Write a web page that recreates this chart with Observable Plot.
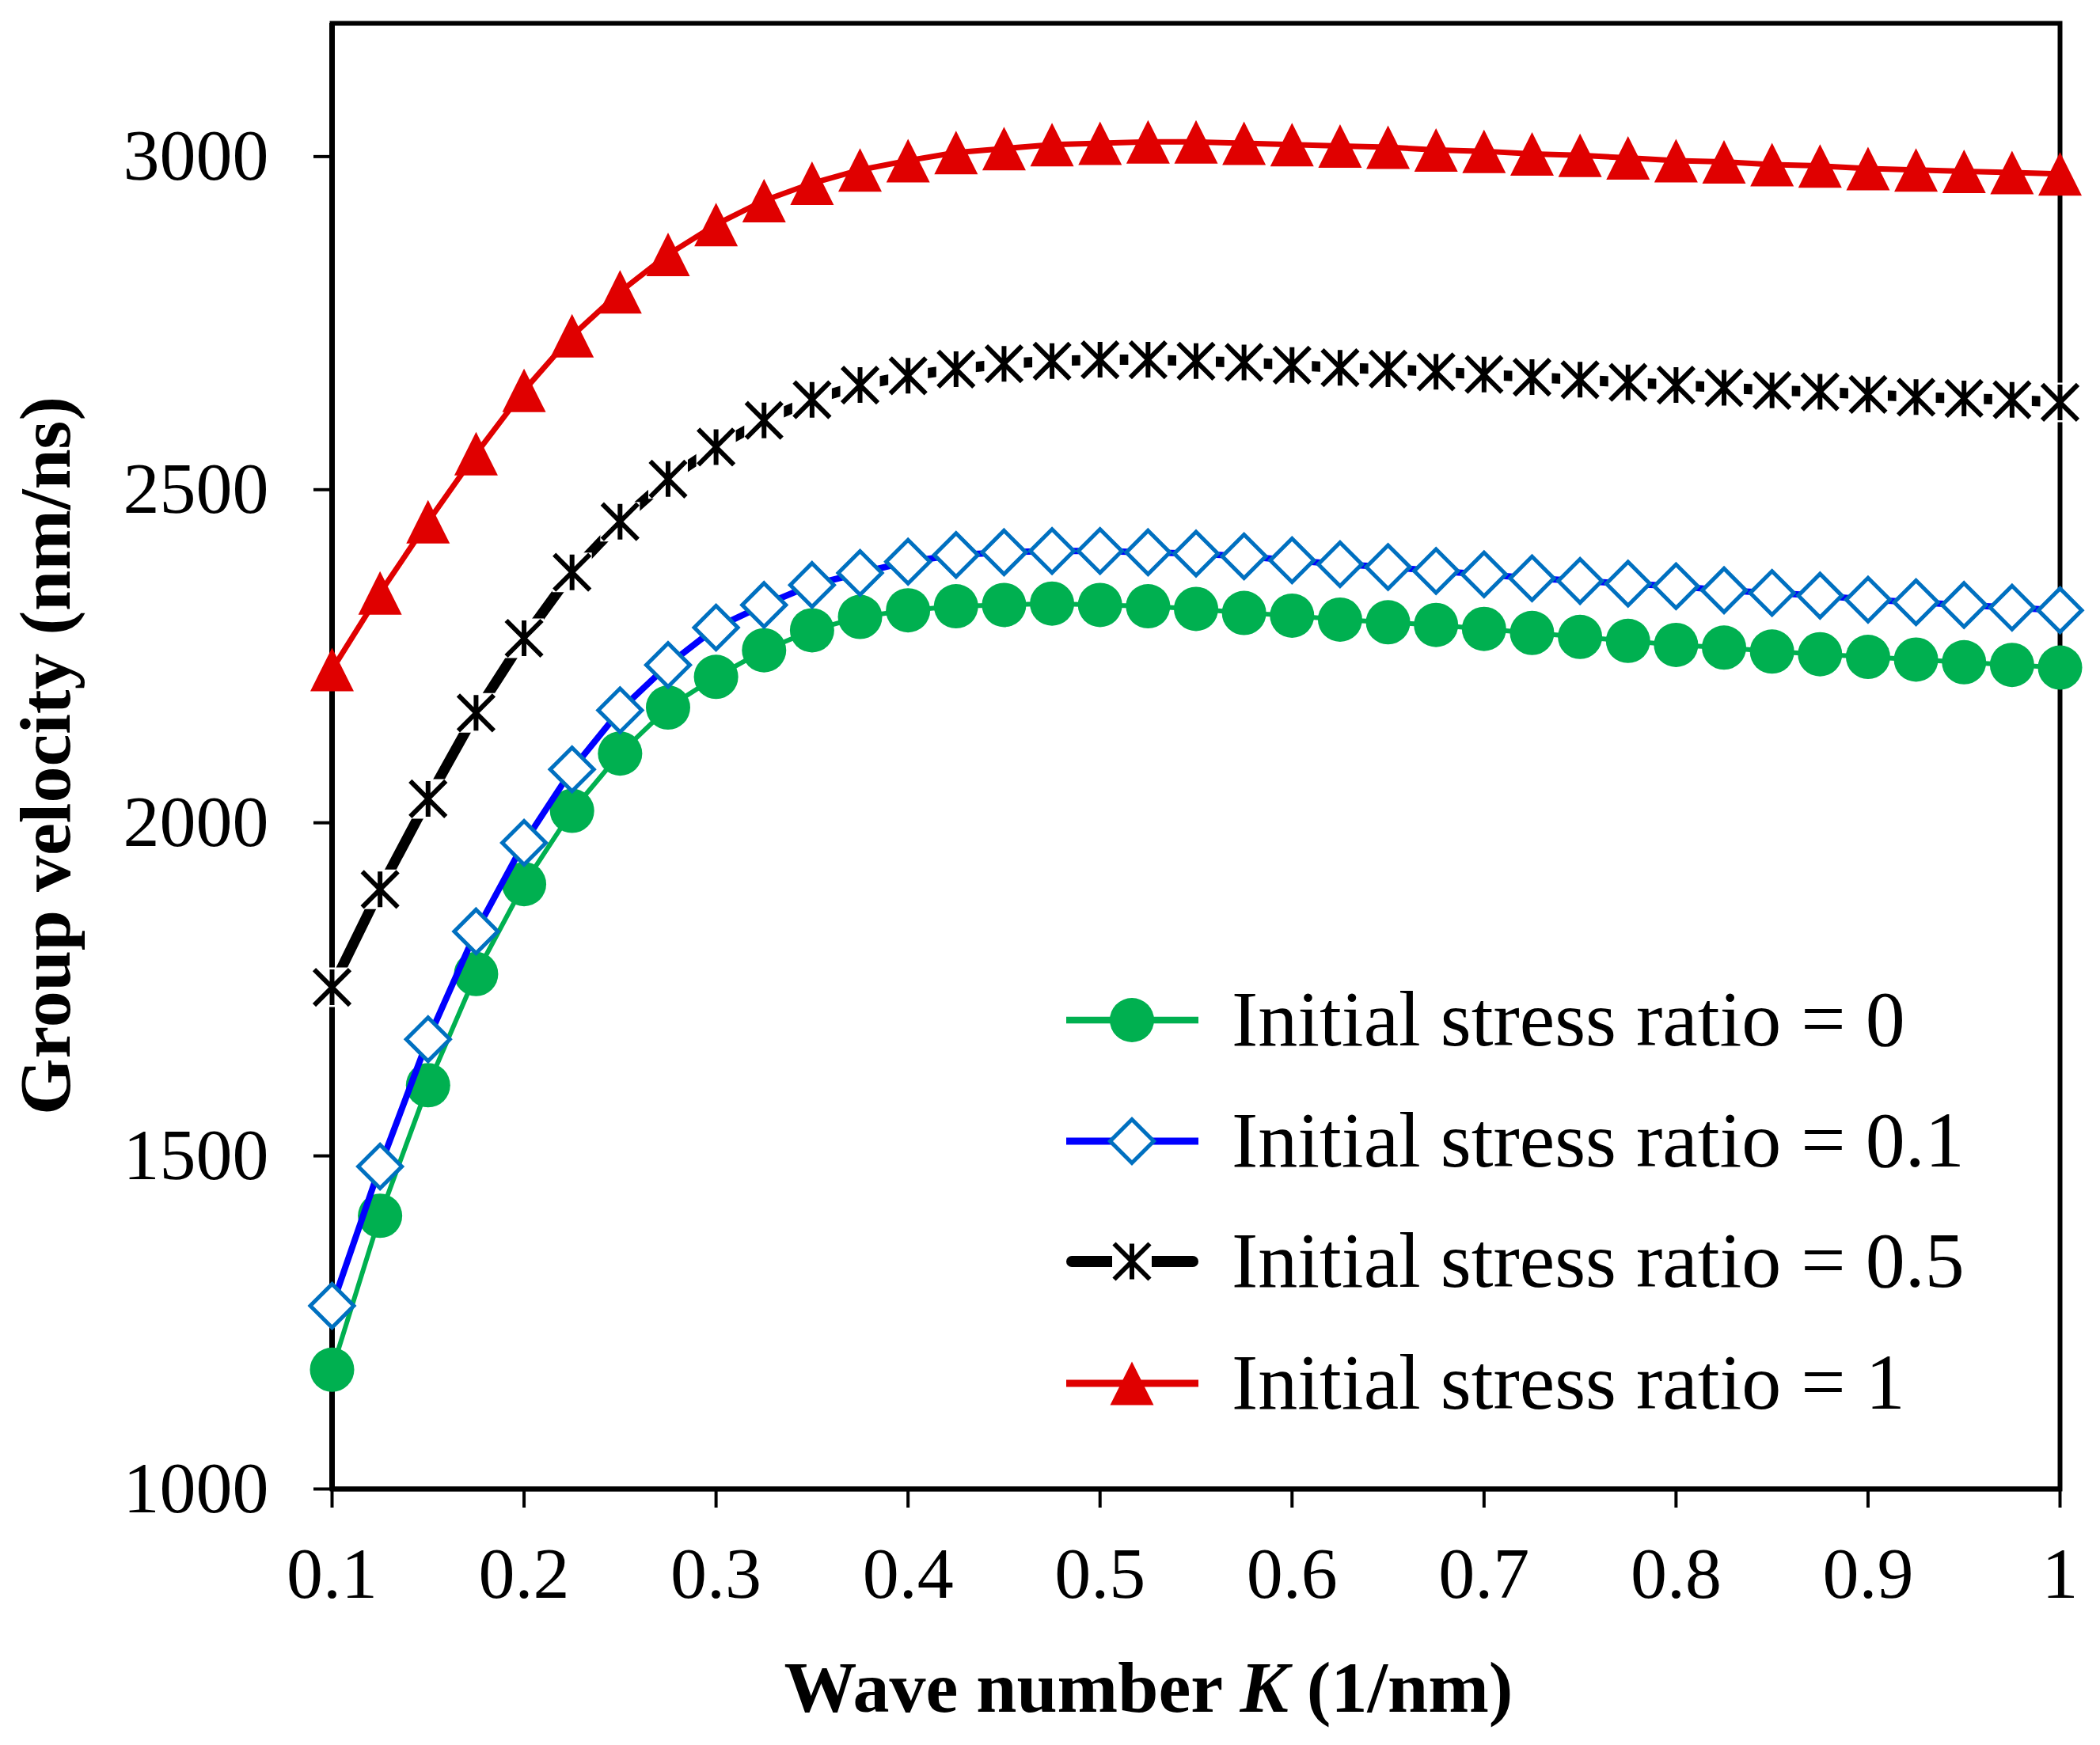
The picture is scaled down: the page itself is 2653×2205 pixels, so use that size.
<!DOCTYPE html>
<html>
<head>
<meta charset="utf-8">
<script src="https://cdn.jsdelivr.net/npm/d3@7"></script>
<script src="https://cdn.jsdelivr.net/npm/@observablehq/plot@0.6"></script>
<style>
  html, body { margin: 0; padding: 0; background: #fff; }
  #chart svg { display: block; }
</style>
</head>
<body>
<div id="chart"></div>
<script>
// ---- data ----
const waveNumber = [0.1, 0.125, 0.15, 0.175, 0.2, 0.225, 0.25, 0.275, 0.3, 0.325, 0.35, 0.375, 0.4, 0.425, 0.45, 0.475, 0.5, 0.525, 0.55, 0.575, 0.6, 0.625, 0.65, 0.675, 0.7, 0.725, 0.75, 0.775, 0.8, 0.825, 0.85, 0.875, 0.9, 0.925, 0.95, 0.975, 1.0];
const ratio0  = [1179,1410,1606,1773,1908,2018,2104,2173,2219,2259,2289,2309,2319,2325,2327,2329,2327,2325,2321,2315,2311,2305,2301,2297,2291,2285,2279,2273,2267,2263,2257,2253,2249,2245,2241,2237,2233];
const ratio01 = [1275,1484,1675,1837,1970,2080,2169,2237,2293,2327,2357,2375,2392,2402,2406,2408,2408,2406,2404,2400,2394,2388,2384,2378,2373,2367,2363,2359,2355,2349,2345,2341,2335,2331,2327,2323,2319];
const ratio05 = [1753,1900,2036,2165,2277,2376,2452,2516,2564,2604,2635,2657,2671,2681,2689,2693,2695,2695,2693,2691,2687,2683,2681,2677,2673,2669,2665,2661,2657,2653,2649,2647,2643,2639,2637,2635,2631];
const ratio1  = [2230,2345,2452,2554,2649,2731,2797,2853,2898,2934,2960,2980,2994,3006,3012,3018,3020,3022,3022,3020,3018,3016,3014,3010,3008,3004,3002,2998,2994,2992,2988,2986,2982,2980,2978,2976,2974];
const seriesNames = ["Initial stress ratio = 0", "Initial stress ratio = 0.1", "Initial stress ratio = 0.5", "Initial stress ratio = 1"];
const xTicks = [0.1, 0.2, 0.3, 0.4, 0.5, 0.6, 0.7, 0.8, 0.9, 1];
const yTicks = [1000, 1500, 2000, 2500, 3000];

const toRows = (vals) => waveNumber.map((k, i) => ({k, v: vals[i]}));
const d0 = toRows(ratio0), d01 = toRows(ratio01), d05 = toRows(ratio05), d1 = toRows(ratio1);

// ---- custom marker shapes (size = pi r^2) ----
const R = (s) => Math.sqrt(s / Math.PI);
const triangleSym = {draw(c, s) { const r = R(s); c.moveTo(0, -r); c.lineTo(r, r); c.lineTo(-r, r); c.closePath(); }};
const diamondSym  = {draw(c, s) { const r = R(s); c.moveTo(0, -r); c.lineTo(r, 0); c.lineTo(0, r); c.lineTo(-r, 0); c.closePath(); }};
const starSym     = {draw(c, s) { const r = R(s); c.moveTo(0, -r); c.lineTo(0, r); c.moveTo(-r, -r); c.lineTo(r, r); c.moveTo(-r, r); c.lineTo(r, -r); }};
const squareSym   = {draw(c, s) { const r = R(s); c.rect(-r, -r, 2 * r, 2 * r); }};

const GREEN = "#00B050", BLUE_LINE = "#0000FF", BLUE_MK = "#0070C0", RED = "#E00000", BLACK = "#000";
const FONT = "'Liberation Serif', 'Times New Roman', serif";

const W = 2653, H = 2205;
const plot = Plot.plot({
  width: W, height: H,
  marginLeft: 419, marginRight: 51, marginTop: 29, marginBottom: 324,
  x: {domain: [0.1, 1]},
  y: {domain: [1000, 3200]},
  style: {fontFamily: FONT, fontSize: "92px", background: "#fff", color: "#000"},
  marks: [
    Plot.frame({stroke: BLACK, strokeWidth: 6}),
    Plot.ruleX([0.1], {stroke: BLACK, strokeWidth: 7}),
    Plot.ruleY([1000], {stroke: BLACK, strokeWidth: 6}),
    Plot.axisX({ticks: xTicks, tickSize: 24, tickPadding: 48, strokeWidth: 4, label: null,
                tickFormat: (d) => String(+d.toFixed(1)), fontSize: 92}),
    Plot.axisY({ticks: yTicks, tickSize: 23, tickPadding: 57, strokeWidth: 4, label: null,
                tickFormat: (d) => String(d), fontSize: 92}),
    // ratio 0
    Plot.line(d0, {x: "k", y: "v", stroke: GREEN, strokeWidth: 6}),
    Plot.dot(d0, {x: "k", y: "v", r: 28, fill: GREEN, stroke: "none"}),
    // ratio 0.1
    Plot.line(d01, {x: "k", y: "v", stroke: BLUE_LINE, strokeWidth: 8}),
    Plot.dot(d01, {x: "k", y: "v", r: 27.5, symbol: diamondSym, fill: "#fff", stroke: BLUE_MK, strokeWidth: 5}),
    // ratio 0.5
    Plot.line(d05, {x: "k", y: "v", stroke: BLACK, strokeWidth: 13}),
    Plot.dot(d05, {x: "k", y: "v", r: 25, symbol: squareSym, fill: "#fff", stroke: "none"}),
    Plot.dot(d05, {x: "k", y: "v", r: 22.5, symbol: starSym, fill: "none", stroke: BLACK, strokeWidth: 6}),
    // ratio 1
    Plot.line(d1, {x: "k", y: "v", stroke: RED, strokeWidth: 7}),
    Plot.dot(d1, {x: "k", y: "v", r: 27.5, symbol: triangleSym, fill: RED, stroke: "none"})
  ]
});
document.getElementById("chart").appendChild(plot);

// ---- axis titles ----
const svg = d3.select(plot);
const xt = svg.append("text")
  .attr("x", 1451).attr("y", 2163)
  .attr("text-anchor", "middle")
  .attr("font-family", FONT).attr("font-size", 92).attr("font-weight", "bold").attr("fill", "#000");
xt.append("tspan").text("Wave number ");
xt.append("tspan").attr("font-style", "italic").text("K");
xt.append("tspan").text(" (1/nm)");

svg.append("text")
  .attr("transform", "translate(88,955) rotate(-90)")
  .attr("text-anchor", "middle")
  .attr("font-family", FONT).attr("font-size", 92).attr("font-weight", "bold").attr("fill", "#000")
  .text("Group velocity (nm/ns)");

// ---- legend ----
const legendRows = [
  {name: seriesNames[0], line: GREEN, lw: 8.5, kind: "circle"},
  {name: seriesNames[1], line: BLUE_LINE, lw: 9, kind: "diamond"},
  {name: seriesNames[2], line: BLACK, lw: 14, kind: "star"},
  {name: seriesNames[3], line: RED, lw: 9, kind: "triangle"}
];
const rowY = [1289, 1442, 1594, 1748];
const lg = svg.append("g");
legendRows.forEach((row, i) => {
  const y = rowY[i];
  const g = lg.append("g");
  g.append("line").attr("x1", row.kind === "star" ? 1354 : 1347).attr("x2", row.kind === "star" ? 1507 : 1514)
    .attr("y1", y).attr("y2", y)
    .attr("stroke", row.line).attr("stroke-width", row.lw)
    .attr("stroke-linecap", row.kind === "star" ? "round" : "butt");
  const sym = (type, r) => d3.symbol().type(type).size(Math.PI * r * r)();
  const t = `translate(1430,${y})`;
  if (row.kind === "circle") {
    g.append("path").attr("transform", t).attr("d", sym(d3.symbolCircle, 28)).attr("fill", GREEN);
  } else if (row.kind === "diamond") {
    g.append("path").attr("transform", t).attr("d", sym(diamondSym, 27.5)).attr("fill", "#fff").attr("stroke", BLUE_MK).attr("stroke-width", 5);
  } else if (row.kind === "star") {
    g.append("path").attr("transform", t).attr("d", sym(squareSym, 25)).attr("fill", "#fff");
    g.append("path").attr("transform", t).attr("d", sym(starSym, 22.5)).attr("fill", "none").attr("stroke", BLACK).attr("stroke-width", 6);
  } else {
    g.append("path").attr("transform", t).attr("d", sym(triangleSym, 27.5)).attr("fill", RED);
  }
  g.append("text").attr("x", 1556).attr("y", y).attr("dy", "0.32em")
    .attr("text-anchor", "start")
    .attr("font-family", FONT).attr("font-size", 100).attr("fill", "#000")
    .text(row.name);
});
</script>
</body>
</html>
